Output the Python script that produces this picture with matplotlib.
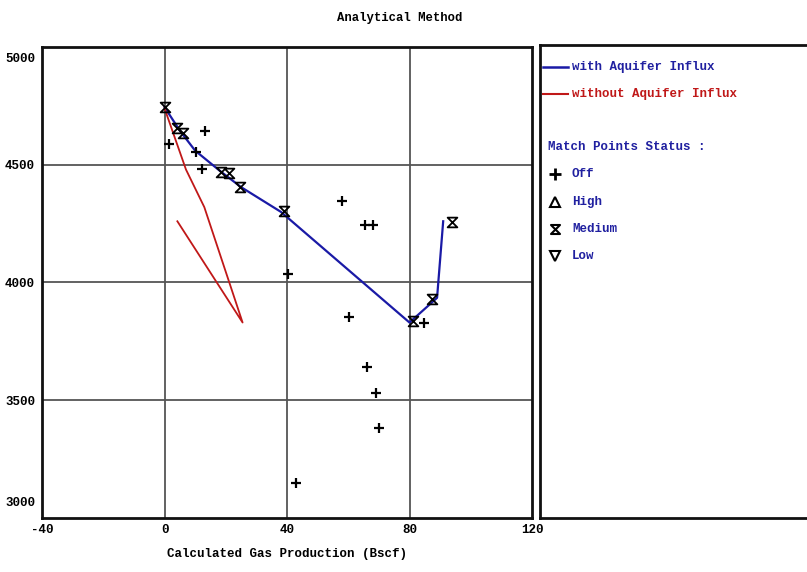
import matplotlib
matplotlib.use("Agg")
import matplotlib.pyplot as plt
import matplotlib.transforms as mtransforms
from matplotlib.path import Path

# ---- data ----
with_x = [0, 5, 10, 18, 25, 38, 80, 89, 91]
with_y = [4745, 4645, 4560, 4475, 4405, 4300, 3830, 3935, 4260]

without_x = [0, 7, 13, 25.5, 4.2]
without_y = [4740, 4480, 4320, 3830, 4260]

off_x = [1.6, 13.1, 10.4, 12.4, 57.8, 65.6, 68.2, 40.2, 60.4, 84.6, 66.0, 68.9, 69.9, 43.1]
off_y = [4590, 4645, 4555, 4483, 4347, 4246, 4246, 4038, 3852, 3830, 3640, 3530, 3381, 3148]

med_x = [0, 4.2, 6.2, 18.6, 20.9, 24.5, 38.9, 81.0, 87.2, 94.0]
med_y = [4746, 4655, 4636, 4470, 4466, 4407, 4305, 3835, 3932, 4258]

xticks = [-40, 0, 40, 80, 120]
yticks = [3000, 3500, 4000, 4500, 5000]

title = "Analytical Method"
xlabel = "Calculated Gas Production (Bscf)"
legend_lines = ["with Aquifer Influx", "without Aquifer Influx"]
status_title = "Match Points Status :"
status_labels = ["Off", "High", "Medium", "Low"]

FONT = "Liberation Mono"
BLUE = "#1a1aa6"
RED = "#c01818"
TXTBLUE = "#2020a0"
FS = 9

hourglass = Path([(-1, 1), (1, 1), (-1, -1), (1, -1), (-1, 1)],
                 [Path.MOVETO, Path.LINETO, Path.LINETO, Path.LINETO, Path.CLOSEPOLY])

W, H = 807, 572
fig = plt.figure(figsize=(W / 100, H / 100), dpi=100)
fig.patch.set_facecolor("white")

def rect(l, t, r, b):
    return [l / W, 1 - b / H, (r - l) / W, (b - t) / H]

ax = fig.add_axes(rect(42, 47, 532, 518))
ax.set_xlim(-40, 120)
ax.set_ylim(3000, 5000)
ax.set_xticks(xticks)
ax.set_yticks(yticks)
for v in xticks[1:-1]:
    ax.axvline(v, color="#555555", lw=1.3, zorder=1)
for v in yticks[1:-1]:
    ax.axhline(v, color="#555555", lw=1.3, zorder=1)
for s in ax.spines.values():
    s.set_linewidth(2.0)
    s.set_color("#111111")
ax.tick_params(length=0, pad=4)
ax.tick_params(axis="y", pad=5)
ax.set_xticklabels([str(v) for v in xticks], fontfamily=FONT, fontweight="bold", fontsize=FS)
ax.set_yticklabels([str(v) for v in yticks], fontfamily=FONT, fontweight="bold", fontsize=FS)
ylabs = ax.get_yticklabels()
ylabs[0].set_transform(ylabs[0].get_transform() +
                       mtransforms.ScaledTranslation(0, 16 / 100, fig.dpi_scale_trans))
ylabs[-1].set_transform(ylabs[-1].get_transform() +
                        mtransforms.ScaledTranslation(0, -10 / 100, fig.dpi_scale_trans))

ax.plot(with_x, with_y, color=BLUE, lw=1.6, zorder=3)
ax.plot(without_x, without_y, color=RED, lw=1.3, zorder=3)
ax.plot(off_x, off_y, ls="none", marker="+", ms=7, mew=1.6, color="black", zorder=4)
ax.plot(med_x, med_y, ls="none", marker=hourglass, ms=7, mew=1.3,
        mfc="none", mec="black", zorder=4)

ax.set_xlabel(xlabel, fontfamily=FONT, fontweight="bold", fontsize=FS, labelpad=9)
fig.text(400 / W, 1 - 18 / H, title, ha="center", va="center",
         fontfamily=FONT, fontweight="bold", fontsize=8.8)

# legend panel
lg = fig.add_axes(rect(540, 45, 812, 518))
lg.set_xlim(540, 812)
lg.set_ylim(518, 45)
lg.set_xticks([])
lg.set_yticks([])
for s in lg.spines.values():
    s.set_linewidth(2.0)
    s.set_color("#111111")

lg.plot([543, 568], [67, 67], color=BLUE, lw=1.8)
lg.text(572, 67, legend_lines[0], color=TXTBLUE, va="center", fontfamily=FONT,
        fontweight="bold", fontsize=FS)
lg.plot([543, 568], [94, 94], color=RED, lw=1.5)
lg.text(572, 94, legend_lines[1], color=RED, va="center", fontfamily=FONT,
        fontweight="bold", fontsize=FS)
lg.text(548, 147, status_title, color=TXTBLUE, va="center", fontfamily=FONT,
        fontweight="bold", fontsize=FS)

sym_y = [174, 202, 229, 256]
sym_m = ["+", "^", hourglass, "v"]
for yy, mk, lab in zip(sym_y, sym_m, status_labels):
    if mk == "+":
        lg.plot([555], [yy], marker="+", ms=8, mew=2.0, color="black")
    else:
        lg.plot([555], [yy], marker=mk, ms=6.5, mew=1.5, mfc="none", mec="black")
    lg.text(572, yy, lab, color=TXTBLUE, va="center", fontfamily=FONT,
            fontweight="bold", fontsize=FS)

fig.savefig("out.png", dpi=100)
